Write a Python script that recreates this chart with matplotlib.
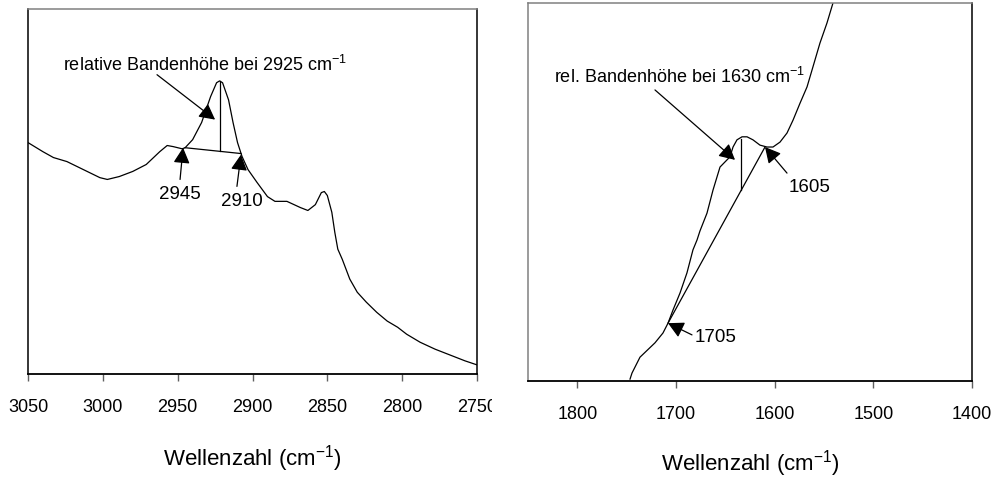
import matplotlib
matplotlib.use("Agg")
import numpy as np
import matplotlib.pyplot as plt
from matplotlib.transforms import Bbox, TransformedBbox

# left spectrum: C-H stretching region (absorbance, arbitrary units)
wn_ch = [3050, 3040, 3033, 3024, 3013, 3002, 2997, 2989, 2980, 2971, 2962, 2957,
         2953, 2947, 2945, 2940, 2934, 2928, 2924, 2922, 2920, 2916, 2913, 2910,
         2907, 2903, 2897, 2890, 2885, 2877, 2868, 2863, 2858, 2854, 2852, 2850,
         2847, 2845, 2843, 2840, 2835, 2830, 2824, 2817, 2810, 2803, 2797, 2788,
         2778, 2768, 2758, 2750]
abs_ch = [0.634, 0.609, 0.593, 0.582, 0.560, 0.538, 0.533, 0.541, 0.555, 0.574, 0.609, 0.626,
          0.623, 0.617, 0.620, 0.642, 0.689, 0.760, 0.798, 0.803, 0.798, 0.751, 0.689, 0.634,
          0.596, 0.560, 0.525, 0.486, 0.473, 0.473, 0.456, 0.448, 0.464, 0.497, 0.500, 0.489,
          0.443, 0.388, 0.342, 0.314, 0.260, 0.224, 0.197, 0.169, 0.145, 0.128, 0.109, 0.087,
          0.068, 0.052, 0.036, 0.025]

# right spectrum: 1550-1750 region
wn_co = [1746.6, 1744.6, 1736.5, 1721.3, 1713.2, 1708.1, 1703.0, 1695.9, 1688.9, 1682.8,
         1678.7, 1675.7, 1668.6, 1662.5, 1655.4, 1648.3, 1645.3, 1642.2, 1638.2, 1633.1,
         1628.0, 1622.0, 1614.9, 1607.8, 1601.7, 1594.6, 1587.5, 1581.4, 1574.3, 1567.2,
         1561.2, 1554.1, 1547.0, 1540.9, 1535.8]
abs_co = [0.005, 0.021, 0.063, 0.101, 0.127, 0.153, 0.188, 0.233, 0.286, 0.347,
          0.373, 0.397, 0.444, 0.505, 0.566, 0.585, 0.593, 0.619, 0.638, 0.646,
          0.646, 0.638, 0.624, 0.619, 0.619, 0.632, 0.656, 0.690, 0.735, 0.778,
          0.831, 0.894, 0.947, 1.000, 1.030]

ticks_ch = [3050, 3000, 2950, 2900, 2850, 2800, 2750]
ticks_co = [1800, 1700, 1600, 1500, 1400]

# baseline end points and band maximum used for the relative band height
base_ch = [(2945.1, 0.620), (2907.7, 0.604)]
peak_ch = (2921.7, 0.803)
base_co = [(1708.1, 0.153), (1609.8, 0.619)]
peak_co = (1634.0, 0.640)

plt.rcParams['font.family'] = ['Liberation Sans', 'DejaVu Sans']
plt.rcParams['mathtext.fontset'] = 'custom'
plt.rcParams['mathtext.rm'] = 'Liberation Sans'
plt.rcParams['mathtext.default'] = 'regular'

fig = plt.figure(figsize=(9.95, 4.79), dpi=100)
ax1 = fig.add_axes([28 / 995, 1 - 374 / 479, 449 / 995, 365 / 479])
ax2 = fig.add_axes([528 / 995, 1 - 381 / 479, 444 / 995, 378 / 479])

ax1.plot(wn_ch, abs_ch, color='black', lw=0.9)
ax2.plot(wn_co, abs_co, color='black', lw=0.9)

ax1.set_xlim(3050, 2750)
ax2.set_xlim(1850, 1400)
for ax in (ax1, ax2):
    ax.set_ylim(0, 1)
    ax.set_yticks([])
    for s in ax.spines.values():
        s.set_linewidth(1.1)
    ax.spines['top'].set_color('#808080')
    ax.spines['bottom'].set_linewidth(1.3)
    ax.tick_params(axis='x', direction='out', length=5, width=1, color='#606060',
                   labelsize=13, pad=13)
ax2.spines['left'].set_color('#808080')
ax1.set_xticks(ticks_ch)
ax2.set_xticks(ticks_co)

xlabel = 'Wellenzahl (cm$^{-1}$)'
ax1.set_xlabel(xlabel, fontsize=16)
ax2.set_xlabel(xlabel, fontsize=16)
ax1.xaxis.set_label_coords(0.5, -0.19)
ax2.xaxis.set_label_coords(0.5, -0.177)

# 2750 label is cut off by the neighbouring panel
clip = TransformedBbox(Bbox([[0, 0], [492 / 995, 1]]), fig.transFigure)
for lbl in ax1.get_xticklabels():
    lbl.set_clip_on(True)
    lbl.set_clip_box(clip)

arrow = dict(arrowstyle='-|>,head_length=0.95,head_width=0.5', color='black',
             lw=0.9, shrinkA=0, shrinkB=0, mutation_scale=10)


def band_height(ax, base, peak):
    (x0, y0), (x1, y1) = base
    ax.plot([x0, x1], [y0, y1], color='black', lw=0.9)
    yb = np.interp(peak[0], [x1, x0], [y1, y0])
    ax.plot([peak[0], peak[0]], [peak[1], yb], color='black', lw=0.9)


band_height(ax1, base_ch, peak_ch)
band_height(ax2, base_co, peak_co)

# left annotations
ax1.text(2931.7, 0.831, 'relative Bandenhöhe bei 2925 cm$^{-1}$', ha='center', va='baseline',
         fontsize=13)
ax1.annotate('', xy=(2925.0, 0.697), xytext=(2963.8, 0.820), arrowprops=arrow)
ax1.annotate('', xy=(2946.4, 0.620), xytext=(2948.4, 0.533), arrowprops=arrow)
ax1.text(2948.4, 0.492, '2945', ha='center', va='center', fontsize=13.5)
ax1.annotate('', xy=(2907.7, 0.601), xytext=(2910.4, 0.514), arrowprops=arrow)
ax1.text(2907.0, 0.473, '2910', ha='center', va='center', fontsize=13.5)

# right annotations
ax2.text(1696, 0.788, 'rel. Bandenhöhe bei 1630 cm$^{-1}$', ha='center', va='baseline',
         fontsize=13)
ax2.annotate('', xy=(1640.2, 0.585), xytext=(1721.3, 0.770), arrowprops=arrow)
ax2.annotate('', xy=(1609.8, 0.619), xytext=(1587.5, 0.550), arrowprops=arrow)
ax2.text(1564.2, 0.511, '1605', ha='center', va='center', fontsize=13.5)
ax2.annotate('', xy=(1708.1, 0.153), xytext=(1683.8, 0.122), arrowprops=arrow)
ax2.text(1680.7, 0.116, '1705', ha='left', va='center', fontsize=13.5)

fig.savefig('out.png', dpi=100)
